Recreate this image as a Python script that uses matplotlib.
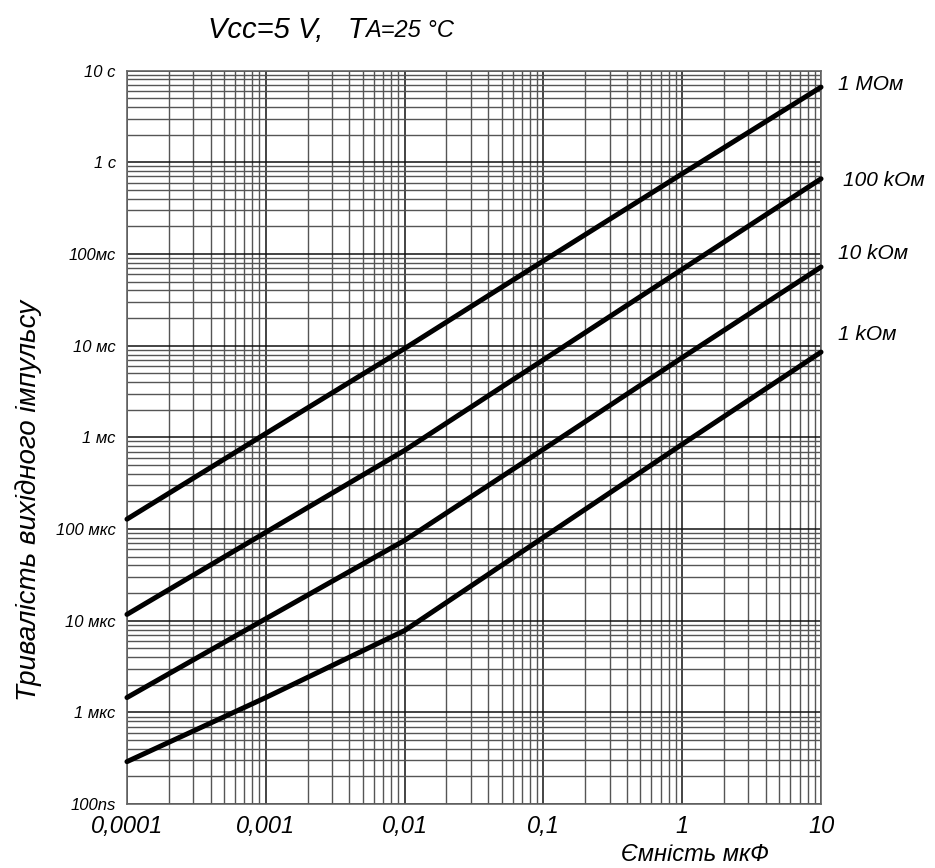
# -*- coding: utf-8 -*-
# Тривалість вихідного імпульсу від ємності для різних опорів (log-log)
import matplotlib
matplotlib.use("Agg")
import matplotlib.pyplot as plt
import numpy as np
from matplotlib.ticker import LogLocator, NullFormatter

plt.rcParams['font.family'] = ['Liberation Sans', 'DejaVu Sans']

# Дані
capacity_uF = [1e-4, 1e-3, 1e-2, 1e-1, 1, 10]
t_1M = [1.28e-4, 1.1e-3, 9.3e-3, 8.4e-2, 0.75, 6.6]
t_100k = [1.17e-5, 9.2e-5, 7.2e-4, 7.0e-3, 6.8e-2, 0.66]
t_10k = [1.45e-6, 1.05e-5, 7.5e-5, 7.4e-4, 7.4e-3, 7.2e-2]
t_1k = [2.9e-7, 1.45e-6, 7.8e-6, 8.1e-5, 8.4e-4, 8.5e-3]
curve_labels = ['1 MОм', '100 kОм', '10 kОм', '1 kОм']

x_ticks = [1e-4, 1e-3, 1e-2, 1e-1, 1, 10]
x_ticklabels = ['0,0001', '0,001', '0,01', '0,1', '1', '10']
y_ticks = [1e-7, 1e-6, 1e-5, 1e-4, 1e-3, 1e-2, 1e-1, 1, 10]
y_ticklabels = ['100ns', '1 мкс', '10 мкс', '100 мкс', '1 мс', '10 мс', '100мс', '1 с', '10 с']

fig = plt.figure(figsize=(9.35, 8.68), dpi=100)
ax = fig.add_axes([0.1358, 0.0737, 0.7423, 0.845])

ax.set_xscale('log')
ax.set_yscale('log')
ax.set_xlim(1e-4, 10)
ax.set_ylim(1e-7, 10)

# Сітка
ax.xaxis.set_minor_locator(LogLocator(base=10, subs=np.arange(2, 10)))
ax.yaxis.set_minor_locator(LogLocator(base=10, subs=np.arange(2, 10), numticks=20))
ax.yaxis.set_major_locator(LogLocator(base=10, numticks=20))
ax.xaxis.set_minor_formatter(NullFormatter())
ax.yaxis.set_minor_formatter(NullFormatter())
ax.grid(True, which='major', color='#111111', linewidth=1.1)
ax.grid(True, which='minor', color='#555555', linewidth=1.0)
ax.set_axisbelow(True)

ax.set_xticks(x_ticks)
ax.set_xticklabels(x_ticklabels, fontsize=17, style='italic')
ax.set_yticks(y_ticks)
ax.set_yticklabels(y_ticklabels, fontsize=12, style='italic')
ax.tick_params(which='both', length=0)
ax.tick_params(axis='x', pad=8)
ax.tick_params(axis='y', pad=8)

for s in ax.spines.values():
    s.set_color('#666666')
    s.set_linewidth(1.2)

# Криві
series = [t_1M, t_100k, t_10k, t_1k]
for ys in series:
    ax.plot(capacity_uF, ys, color='black', linewidth=3.6, solid_capstyle='round',
            clip_on=False, zorder=5)

# Підписи кривих
label_offsets = [(12, 2), (16, -1), (12, 10), (12, 13)]
for ys, lab, off in zip(series, curve_labels, label_offsets):
    ax.annotate(lab, xy=(capacity_uF[-1], ys[-1]), xytext=off,
                textcoords='offset points', fontsize=15, style='italic',
                ha='left', va='center', annotation_clip=False)

# Осі
ax.text(-0.142, 0.414, 'Тривалість вихідного імпульсу', transform=ax.transAxes,
        rotation=90, fontsize=20, style='italic', ha='center', va='center')
fig.text(0.743, 0.002, 'Ємність мкФ', fontsize=17, style='italic',
         ha='center', va='bottom')

# Заголовок
t1 = fig.text(0.222, 0.966, 'Vcc=5 V,   T', fontsize=21, style='italic',
              ha='left', va='center')
ax.annotate('A=25 °C', xy=(1.0, 0.45), xycoords=t1, fontsize=17, style='italic',
            ha='left', va='center', annotation_clip=False)

fig.savefig('out.png', dpi=100)
